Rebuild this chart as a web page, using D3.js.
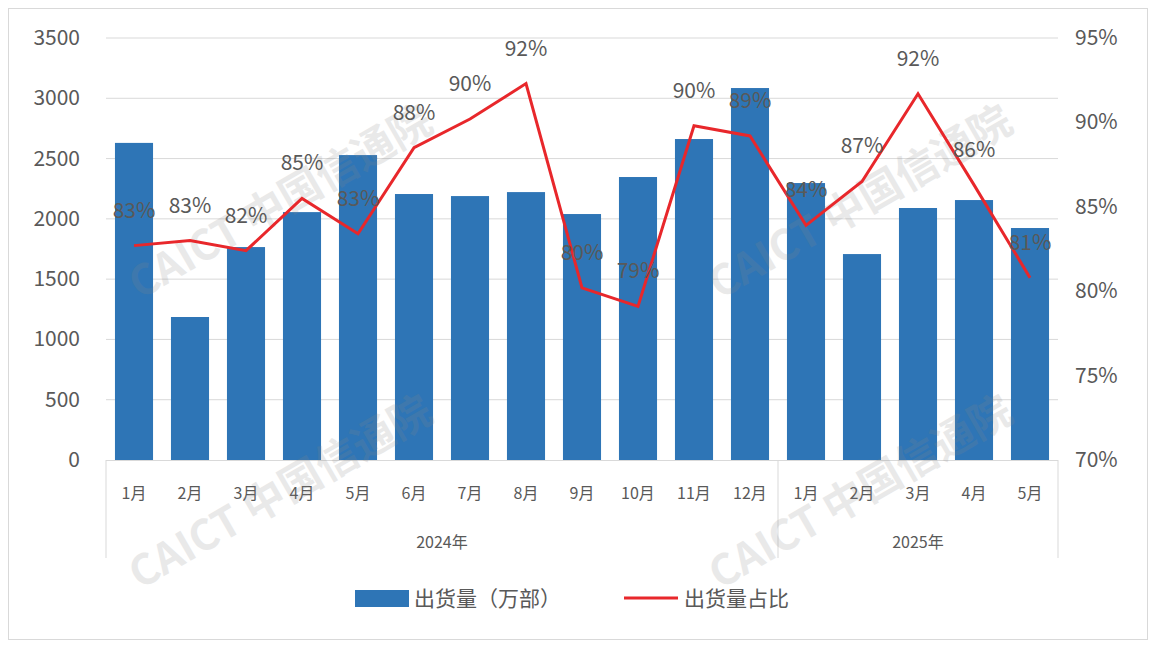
<!DOCTYPE html>
<html><head><meta charset="utf-8">
<script src="https://cdn.jsdelivr.net/npm/d3@7"></script>
<style>body{margin:0;background:#fff}svg{font-family:"Microsoft YaHei","Noto Sans CJK SC","DejaVu Sans",sans-serif}</style>
</head><body><svg id="c" width="1156" height="650"></svg>
<script>
const months=["1月","2月","3月","4月","5月","6月","7月","8月","9月","10月","11月","12月","1月","2月","3月","4月","5月"];
const years=[{label:"2024年",from:0,to:11},{label:"2025年",from:12,to:16}];
const shipments=[2630,1186,1766,2056,2529,2206,2189,2222,2040,2347,2662,3085,2297,1708,2090,2156,1924];
const share=[82.7,83.0,82.4,85.5,83.4,88.5,90.2,92.3,80.2,79.1,89.8,89.2,83.9,86.5,91.7,86.3,80.8];
const shareLabels=["83%","83%","82%","85%","83%","88%","90%","92%","80%","79%","90%","89%","84%","87%","92%","86%","81%"];
const leftTicks=[0,500,1000,1500,2000,2500,3000,3500];
const rightTicks=[70,75,80,85,90,95];

const svg=d3.select("#c");
const grey="#595959";
svg.append("rect").attr("x",8.5).attr("y",8.5).attr("width",1139).attr("height",631).attr("fill","#fff").attr("stroke","#d9d9d9");
const keys=months.map((m,i)=>i);
const x=d3.scaleBand().domain(keys).range([106,1058]).paddingInner(0.32).paddingOuter(0.16);
const yL=d3.scaleLinear().domain([0,3500]).range([460,38]);
const yR=d3.scaleLinear().domain([70,95]).range([460,38]);

svg.append("g").selectAll("line").data(leftTicks.slice(1)).join("line")
 .attr("x1",106).attr("x2",1058).attr("y1",d=>yL(d)).attr("y2",d=>yL(d)).attr("stroke","#d9d9d9");
svg.append("g").selectAll("text").data(leftTicks).join("text")
 .attr("x",80).attr("y",d=>yL(d)+7).attr("text-anchor","end").attr("font-size",21).attr("fill",grey).text(d=>d);
svg.append("g").selectAll("text").data(rightTicks).join("text")
 .attr("x",1075).attr("y",d=>yR(d)+7).attr("font-size",21).attr("fill",grey).text(d=>d+"%");

svg.append("g").selectAll("rect").data(shipments).join("rect")
 .attr("x",(d,i)=>x(i)).attr("width",x.bandwidth()).attr("y",d=>yL(d)).attr("height",d=>460-yL(d)).attr("fill","#2e75b6");

svg.append("line").attr("x1",106).attr("x2",1058).attr("y1",460.5).attr("y2",460.5).attr("stroke","#d9d9d9");
const step=x.step();
const sepX=[106,106+12*step,1058];
svg.append("g").selectAll("line").data(sepX).join("line")
 .attr("x1",d=>d).attr("x2",d=>d).attr("y1",460).attr("y2",558).attr("stroke","#d9d9d9");
svg.append("g").selectAll("text").data(months).join("text")
 .attr("x",(d,i)=>x(i)+x.bandwidth()/2).attr("y",499).attr("text-anchor","middle").attr("font-size",16).attr("fill",grey).text(d=>d);
svg.append("g").selectAll("text").data(years).join("text")
 .attr("x",d=>(x(d.from)+x(d.to)+x.bandwidth())/2).attr("y",548).attr("text-anchor","middle").attr("font-size",16).attr("fill",grey).text(d=>d.label);

const wm=[[140,300],[720,300],[140,590],[720,590]];
wm.forEach(([wx,wy])=>{svg.append("text").attr("transform",`translate(${wx},${wy}) rotate(-30)`)
 .attr("font-size",42).attr("font-weight","bold").attr("fill","#888").attr("opacity",0.18).text("CAICT 中国信通院");});

const cx=i=>x(i)+x.bandwidth()/2;
svg.append("path").datum(share).attr("fill","none").attr("stroke","#e8272b").attr("stroke-width",3)
 .attr("d",d3.line().x((d,i)=>cx(i)).y(d=>yR(d)));
svg.append("g").selectAll("text").data(share).join("text")
 .attr("x",(d,i)=>cx(i)).attr("y",d=>yR(d)-28).attr("text-anchor","middle").attr("font-size",21).attr("fill",grey).text((d,i)=>shareLabels[i]);

svg.append("rect").attr("x",355).attr("y",590).attr("width",54).attr("height",17).attr("fill","#2e75b6");
svg.append("text").attr("x",414).attr("y",606).attr("font-size",21).attr("fill",grey).text("出货量（万部）");
svg.append("line").attr("x1",624).attr("x2",678).attr("y1",598).attr("y2",598).attr("stroke","#e8272b").attr("stroke-width",3);
svg.append("text").attr("x",684).attr("y",606).attr("font-size",21).attr("fill",grey).text("出货量占比");
</script></body></html>
